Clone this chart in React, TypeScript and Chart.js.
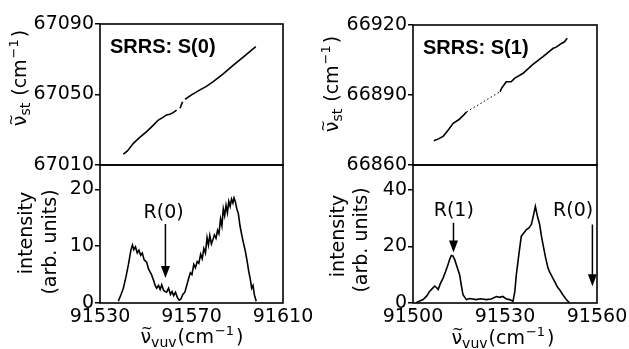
import React, { useEffect, useRef } from 'react';
import { Chart, registerables } from 'chart.js';
Chart.register(...registerables);

const FONT = '"DejaVu Sans", sans-serif';
const W = 629, H = 349, YW = 70, XH = 34;

// ---- Data: top-left (SRRS S(0)) Stokes frequency vs VUV frequency ----
const s0X = [91540.2, 91542.0, 91544.6, 91547.5, 91550.4, 91553.0, 91555.5, 91557.5, 91559.1, 91560.5, 91562.0, 91563.5, 91564.3, 91565.0, 91566.1, 91566.7, 91567.2, 91570.0, 91573.7, 91576.5, 91579.5, 91584.0, 91588.3, 91593.0, 91598.1];
const s0Y = [67016.2, 67018.0, 67022.3, 67025.8, 67028.9, 67032.2, 67035.5, 67037.0, 67038.4, 67038.8, 67039.7, 67041.2, null, 67042.2, 67045.9, null, 67047.3, 67049.8, 67052.6, 67054.6, 67057.3, 67061.8, 67066.7, 67071.6, 67077.1];

// ---- Data: bottom-left spectrum ----
const specLX = [91538.0, 91539.2, 91540.2, 91541.3, 91542.4, 91543.5, 91544.2, 91544.8, 91545.5, 91546.3, 91547.0, 91547.8, 91548.5, 91549.3, 91550.4, 91551.2, 91552.0, 91552.6, 91553.4, 91554.2, 91554.8, 91555.6, 91556.3, 91557.0, 91557.8, 91558.5, 91559.1, 91560.0, 91560.8, 91561.5, 91562.2, 91563.0, 91563.8, 91564.6, 91565.4, 91566.2, 91567.1, 91568.0, 91568.8, 91569.5, 91570.2, 91571.0, 91571.7, 91572.5, 91573.2, 91574.0, 91574.7, 91575.4, 91576.1, 91576.8, 91577.4, 91578.0, 91578.7, 91579.3, 91580.0, 91580.7, 91581.4, 91582.0, 91582.7, 91583.3, 91583.9, 91584.5, 91585.1, 91585.7, 91586.3, 91586.9, 91587.5, 91588.1, 91588.6, 91589.2, 91589.8, 91590.5, 91591.2, 91592.0, 91592.8, 91593.5, 91594.3, 91595.0, 91595.7, 91596.3, 91596.9, 91597.5, 91598.3];
const specLY = [0.3, 1.5, 2.6, 4.5, 6.7, 9.3, 10.2, 9.4, 9.9, 8.8, 9.3, 8.4, 8.8, 7.6, 7.2, 6.0, 5.4, 4.9, 4.0, 3.0, 2.6, 3.1, 2.4, 3.2, 2.2, 2.0, 1.9, 2.6, 1.5, 2.0, 1.3, 1.9, 1.0, 0.5, 0.7, 1.5, 1.9, 3.2, 4.4, 5.3, 5.0, 6.8, 6.2, 7.3, 7.0, 8.6, 7.8, 9.6, 8.8, 11.5, 10.2, 11.9, 10.4, 11.1, 12.0, 11.4, 12.8, 12.2, 14.8, 13.6, 16.6, 15.4, 17.2, 15.9, 17.9, 17.0, 18.3, 17.6, 18.5, 17.8, 16.6, 15.7, 13.6, 11.9, 10.4, 9.2, 7.4, 5.6, 4.2, 2.6, 3.1, 1.4, 0.3];

// ---- Data: top-right (SRRS S(1)) ----
const s1X = [91506.8, 91508.5, 91509.9, 91511.5, 91513.1, 91515.0, 91516.5, 91517.5, 91523.0, 91528.4, 91528.9, 91530.4, 91532.0, 91533.1, 91535.9, 91539.0, 91542.4, 91545.7, 91546.6, 91548.4, 91549.4, 91550.3];
const s1Y = [66870.4, 66871.3, 66872.4, 66875.0, 66877.9, 66879.5, 66881.4, 66882.8, null, 66891.4, 66892.9, 66895.7, 66895.7, 66897.1, 66899.3, 66903.0, 66906.4, 66910.0, 66910.4, 66912.1, 66912.8, 66914.3];
const s1DotX = [91517.5, 91528.4];
const s1DotY = [66882.8, 66891.4];

// ---- Data: bottom-right spectrum ----
const specRX = [91500.9, 91502.0, 91503.3, 91504.5, 91505.4, 91506.2, 91507.1, 91507.7, 91508.2, 91509.0, 91509.8, 91510.6, 91511.4, 91512.0, 91512.5, 91513.0, 91513.6, 91514.4, 91515.2, 91515.8, 91516.3, 91517.4, 91518.5, 91520.6, 91522.0, 91523.9, 91525.5, 91527.2, 91528.2, 91529.3, 91530.5, 91531.5, 91532.6, 91533.2, 91533.7, 91534.5, 91535.3, 91536.0, 91537.0, 91537.8, 91538.6, 91539.3, 91539.9, 91540.6, 91541.3, 91541.9, 91542.4, 91543.2, 91544.0, 91544.7, 91545.6, 91546.5, 91547.1, 91547.8, 91548.8, 91550.0, 91551.1];
const specRY = [0, 0.6, 1.2, 2.5, 4.1, 5.0, 6.0, 5.4, 4.8, 7.0, 8.8, 11.0, 13.5, 15.5, 16.8, 16.6, 15.3, 12.6, 10.0, 6.0, 2.9, 1.2, 1.6, 1.2, 1.5, 1.2, 1.4, 2.3, 2.0, 2.3, 1.4, 1.2, 0.6, 4.0, 10.0, 17.0, 23.5, 24.5, 25.9, 26.5, 27.7, 31.0, 34.1, 30.5, 27.7, 23.5, 20.6, 16.2, 12.4, 10.6, 8.8, 6.9, 5.6, 4.7, 3.0, 1.2, 0];

// ---- Arrow annotations (data coordinates) ----
const arrowsL = [{ label: 'R(0)', x: 91558.6, yFrom: 13.9, yTo: 4.4, lx: 91557.8, ly: 15.9 }];
const arrowsR = [
  { label: 'R(1)', x: 91513.2, yFrom: 28.3, yTo: 17.8, lx: 91513.3, ly: 32.4 },
  { label: 'R(0)', x: 91558.5, yFrom: 27.7, yTo: 5.9, lx: 91552.2, ly: 32.4 },
];

// ---- Axis ranges / ticks ----
const xRangeL = [91530, 91610], xStepL = 40;
const xRangeR = [91500, 91560], xStepR = 30;
const yTopL = [67010, 67090], yTopStepL = 40;
const yTopR = [66860, 66920], yTopStepR = 30;
const yBotL = [0, 24.3], yBotStepL = 10;
const yBotR = [0, 48.7], yBotStepR = 20;

const pts = (xs: number[], ys: (number | null)[]) => xs.map((x, i) => ({ x, y: ys[i] }));

function drawNuLabel(ctx: CanvasRenderingContext2D, cx: number, cy: number, sub: string, space: boolean, rotate: boolean) {
  ctx.save();
  ctx.translate(cx, cy);
  if (rotate) ctx.rotate(-Math.PI / 2);
  ctx.fillStyle = '#000';
  ctx.textBaseline = 'alphabetic';
  ctx.textAlign = 'left';
  const big = `19px ${FONT}`, small = `14px ${FONT}`, sup = `13px ${FONT}`;
  ctx.font = big;
  const wNu = ctx.measureText('ν').width;
  const open = (space ? ' ' : '') + '(cm';
  const wOpen = ctx.measureText(open).width;
  const wClose = ctx.measureText(')').width;
  ctx.font = small;
  const wSub = ctx.measureText(sub).width;
  ctx.font = sup;
  const wSup = ctx.measureText('−1').width;
  const total = wNu + wSub + 1 + wOpen + wSup + 3 + wClose;
  let x = -total / 2;
  const y = 6;
  ctx.font = big;
  ctx.fillText('ν', x, y);
  ctx.font = small;
  const wT = ctx.measureText('~').width;
  ctx.fillText('~', x + wNu / 2 - wT / 2 + 1, y - 10);
  x += wNu;
  ctx.fillText(sub, x, y + 4);
  x += wSub + 1;
  ctx.font = big;
  ctx.fillText(open, x, y);
  x += wOpen;
  ctx.font = sup;
  ctx.fillText('−1', x + 1, y - 8);
  x += wSup + 3;
  ctx.font = big;
  ctx.fillText(')', x, y);
  ctx.restore();
}

function drawRotText(ctx: CanvasRenderingContext2D, text: string, cx: number, cy: number) {
  ctx.save();
  ctx.translate(cx, cy);
  ctx.rotate(-Math.PI / 2);
  ctx.fillStyle = '#000';
  ctx.font = `19px ${FONT}`;
  ctx.textAlign = 'center';
  ctx.textBaseline = 'middle';
  ctx.fillText(text, 0, 0);
  ctx.restore();
}

type Arrow = { label: string; x: number; yFrom: number; yTo: number; lx: number; ly: number };

interface PanelCfg {
  area: { l: number; t: number; r: number; b: number };
  xRange: number[]; xStep: number; showX: boolean;
  yRange: number[]; yStep: number;
  datasets: any[];
  arrows?: Arrow[];
  decorate: (ctx: CanvasRenderingContext2D, chart: any) => void;
}

function buildConfig(cfg: PanelCfg): any {
  const { l, t, r, b } = cfg.area;
  const tickFont = { family: FONT, size: 19 };
  const decor = {
    id: 'decor',
    afterDraw(chart: any) {
      const ctx = chart.ctx as CanvasRenderingContext2D;
      const a = chart.chartArea;
      ctx.save();
      ctx.strokeStyle = '#000';
      ctx.lineWidth = 1.6;
      ctx.strokeRect(a.left, a.top, a.right - a.left, a.bottom - a.top);
      const xs = chart.scales.x, ys = chart.scales.y;
      (cfg.arrows || []).forEach((ar) => {
        const px = xs.getPixelForValue(ar.x);
        const p0 = ys.getPixelForValue(ar.yFrom);
        const p1 = ys.getPixelForValue(ar.yTo);
        const head = 12, hw = 4.5;
        ctx.lineWidth = 1.5;
        ctx.beginPath();
        ctx.moveTo(px, p0);
        ctx.lineTo(px, p1 - head + 1);
        ctx.stroke();
        ctx.fillStyle = '#000';
        ctx.beginPath();
        ctx.moveTo(px, p1);
        ctx.lineTo(px - hw, p1 - head);
        ctx.lineTo(px + hw, p1 - head);
        ctx.closePath();
        ctx.fill();
        ctx.font = `19px ${FONT}`;
        ctx.textAlign = 'center';
        ctx.textBaseline = 'middle';
        ctx.fillText(ar.label, xs.getPixelForValue(ar.lx), ys.getPixelForValue(ar.ly));
      });
      cfg.decorate(ctx, chart);
      ctx.restore();
    },
  };
  return {
    type: 'line',
    data: { datasets: cfg.datasets },
    options: {
      responsive: false,
      animation: false,
      events: [],
      layout: {
        padding: {
          left: l - YW,
          top: t,
          right: W - r,
          bottom: cfg.showX ? H - b - XH : H - b,
        },
      },
      plugins: { legend: { display: false }, tooltip: { enabled: false }, title: { display: false } },
      scales: {
        x: {
          type: 'linear',
          min: cfg.xRange[0],
          max: cfg.xRange[1],
          display: cfg.showX,
          afterFit: (s: any) => {
            if (cfg.showX) s.height = XH;
            s.paddingLeft = 0; s.paddingRight = 0;
          },
          grid: { display: false, drawTicks: false },
          border: { display: false },
          ticks: {
            stepSize: cfg.xStep, autoSkip: false, maxRotation: 0, minRotation: 0, includeBounds: false,
            color: '#000', font: tickFont, padding: 3,
            callback: (v: any) => String(v),
          },
        },
        y: {
          type: 'linear',
          min: cfg.yRange[0],
          max: cfg.yRange[1],
          afterFit: (s: any) => { s.width = YW; s.paddingTop = 0; s.paddingBottom = 0; },
          grid: { drawOnChartArea: false, drawTicks: true, tickLength: 5, color: '#000', lineWidth: 1.5 },
          border: { display: false },
          ticks: {
            stepSize: cfg.yStep, autoSkip: false, includeBounds: false,
            color: '#000', font: tickFont, padding: 1,
            callback: (v: any) => String(v),
          },
        },
      },
    },
    plugins: [decor],
  };
}

const lineDs = (data: any[], extra: any = {}) => ({
  data,
  borderColor: '#000',
  borderWidth: 1.6,
  pointRadius: 0,
  tension: 0,
  spanGaps: false,
  fill: false,
  ...extra,
});

const srrs = (text: string) => (ctx: CanvasRenderingContext2D, chart: any) => {
  const a = chart.chartArea;
  ctx.fillStyle = '#000';
  ctx.font = `bold 20px "Liberation Sans", Arial, sans-serif`;
  ctx.textAlign = 'left';
  ctx.textBaseline = 'alphabetic';
  ctx.fillText(text, a.left + 10, a.top + 29);
};

const panels: PanelCfg[] = [
  {
    area: { l: 100, t: 24, r: 283, b: 165 },
    xRange: xRangeL, xStep: xStepL, showX: false,
    yRange: yTopL, yStep: yTopStepL,
    datasets: [lineDs(pts(s0X, s0Y))],
    decorate: (ctx, chart) => {
      srrs('SRRS: S(0)')(ctx, chart);
      drawNuLabel(ctx, 20, 78, 'st', true, true);
    },
  },
  {
    area: { l: 100, t: 165, r: 283, b: 303 },
    xRange: xRangeL, xStep: xStepL, showX: true,
    yRange: yBotL, yStep: yBotStepL,
    datasets: [lineDs(pts(specLX, specLY))],
    arrows: arrowsL,
    decorate: (ctx) => {
      drawRotText(ctx, 'intensity', 27, 233);
      drawRotText(ctx, '(arb. units)', 51, 242);
      drawNuLabel(ctx, 192, 337, 'vuv', false, false);
    },
  },
  {
    area: { l: 413, t: 25, r: 597, b: 165 },
    xRange: xRangeR, xStep: xStepR, showX: false,
    yRange: yTopR, yStep: yTopStepR,
    datasets: [
      lineDs(pts(s1X, s1Y)),
      lineDs(pts(s1DotX, s1DotY), { borderWidth: 1, borderDash: [1.5, 2.5] }),
    ],
    decorate: (ctx, chart) => {
      srrs('SRRS: S(1)')(ctx, chart);
      drawNuLabel(ctx, 332, 84, 'st', true, true);
    },
  },
  {
    area: { l: 413, t: 165, r: 597, b: 303 },
    xRange: xRangeR, xStep: xStepR, showX: true,
    yRange: yBotR, yStep: yBotStepR,
    datasets: [lineDs(pts(specRX, specRY))],
    arrows: arrowsR,
    decorate: (ctx) => {
      drawRotText(ctx, 'intensity', 339, 236);
      drawRotText(ctx, '(arb. units)', 362, 240);
      drawNuLabel(ctx, 503, 338, 'vuv', false, false);
    },
  },
];

function Panel({ cfg }: { cfg: PanelCfg }) {
  const ref = useRef<HTMLCanvasElement>(null);
  useEffect(() => {
    const chart = new Chart(ref.current as HTMLCanvasElement, buildConfig(cfg));
    return () => chart.destroy();
  }, [cfg]);
  return (
    <canvas
      ref={ref}
      width={W}
      height={H}
      style={{ position: 'absolute', left: 0, top: 0, width: W, height: H }}
    />
  );
}

export default function App() {
  return (
    <div style={{ position: 'fixed', left: 0, top: 0, width: W, height: H, background: '#fff', overflow: 'hidden' }}>
      {panels.map((p, i) => (
        <Panel key={i} cfg={p} />
      ))}
    </div>
  );
}
